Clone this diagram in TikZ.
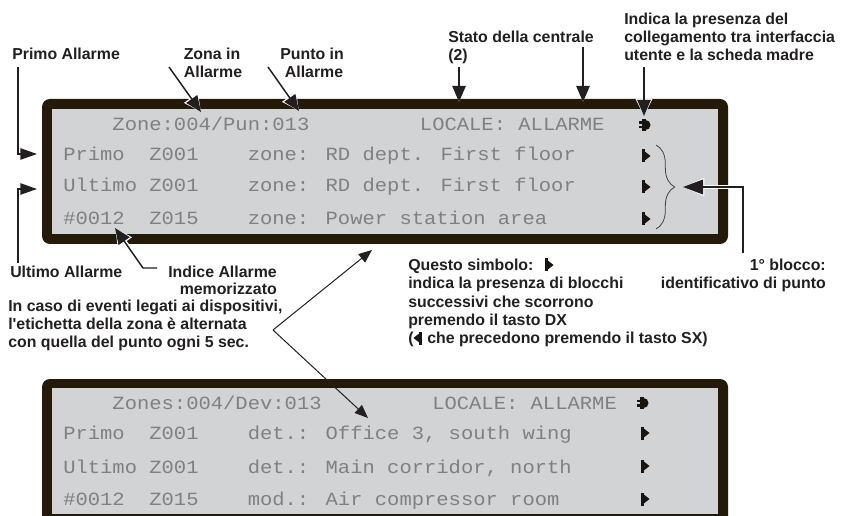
\documentclass[tikz,border=0pt]{standalone}
\usepackage{fontspec}
\setmainfont{Liberation Sans}
\newfontfamily\lcdfont[FakeStretch=1.1]{Liberation Mono}
\usetikzlibrary{arrows.meta,decorations.pathreplacing}
\definecolor{framecol}{RGB}{35,26,10}
\definecolor{lcdbg}{RGB}{209,211,212}
\definecolor{lcdtxt}{RGB}{128,128,128}
\definecolor{ink}{RGB}{35,31,32}
\definecolor{symcol}{RGB}{25,20,15}
\begin{document}
\begin{tikzpicture}[x=0.75pt,y=-0.75pt,
  lbl/.style={font=\fontsize{11.9}{13.5}\selectfont\bfseries, text=ink, inner sep=0pt},
  lcd/.style={font=\lcdfont\fontsize{13.98}{16}\selectfont, text=lcdtxt, inner sep=0pt, anchor=base west},
  harrow/.style={draw=ink, line width=1.1pt,
     -{Triangle[length=12pt,width=10pt]},
     preaction={draw=white, line width=3.2pt, -{Triangle[length=13pt,width=12pt]}}},
  bigarrow/.style={draw=ink, line width=1.1pt,
     -{Triangle[length=15pt,width=11pt]},
     preaction={draw=white, line width=3.2pt, -{Triangle[length=16pt,width=13pt]}}},
  larrow/.style={draw=ink, line width=1pt, -{Triangle[length=12.5pt,width=8.5pt]}},
  tarrow/.style={draw=ink, line width=0.75pt, -{Triangle[length=10pt,width=8pt]}},
  symR/.pic={\fill[symcol] (-4,-6.5) rectangle (-1.2,6.5);
             \fill[symcol] (-1.2,-4.5) -- (4.5,0) -- (-1.2,4.5) -- cycle;},
  symL/.pic={\fill[symcol] (4,-6.5) rectangle (1.2,6.5);
             \fill[symcol] (1.2,-4.5) -- (-4.5,0) -- (1.2,4.5) -- cycle;},
  symC/.pic={\fill[symcol] (-6.5,-3.5) rectangle (-3.5,-1.2);
             \fill[symcol] (-6.5,1.2) rectangle (-3.5,3.5);
             \fill[symcol] (-3.5,-6) rectangle (0.5,6);
             \fill[symcol] (0.5,-5) arc[start angle=-90, end angle=90, radius=5] -- cycle;}
]
\useasboundingbox (0,0) rectangle (841,516);
\fill[white] (0,0) rectangle (841,516);

% ---------- top display ----------
\fill[framecol, rounded corners=6pt] (42,99) rectangle (728,244);
\fill[lcdbg] (52,109) rectangle (718,234);
\node[lcd] (t1a) at ({63+12.3*4},131) {Zone:004/Pun:013};
\node[lcd] (t1b) at ({63+12.3*29},131) {LOCALE: ALLARME};
\node[lcd] (t2a) at (63,161) {Primo};
\node[lcd] (t2b) at ({63+12.3*7},161) {Z001};
\node[lcd] (t2c) at ({63+12.3*15},161) {zone: RD dept. First floor};
\node[lcd] (t3a) at (63,192) {Ultimo};
\node[lcd] (t3b) at ({63+12.3*7},192) {Z001};
\node[lcd] (t3c) at ({63+12.3*15},192) {zone: RD dept. First floor};
\node[lcd] (t4a) at (63,225) {\#0012};
\node[lcd] (t4b) at ({63+12.3*7},225) {Z015};
\node[lcd] (t4c) at ({63+12.3*15},225) {zone: Power station area};
\pic at (645,125) {symC};
\pic at (646,156) {symR};
\pic at (646,187) {symR};
\pic at (646,219) {symR};
\draw[ink!85, line width=0.6pt, decorate, decoration={brace, amplitude=14pt}] (656,145) -- (656,229);

% ---------- bottom display ----------
\fill[framecol, rounded corners=6pt] (42,379) rectangle (728,540);
\fill[lcdbg] (52,388) rectangle (718,514);
\node[lcd] (b1a) at ({63+12.3*4},409) {Zones:004/Dev:013};
\node[lcd] (b1b) at ({63+12.3*30},409) {LOCALE: ALLARME};
\node[lcd] (b2a) at (63,439) {Primo};
\node[lcd] (b2b) at ({63+12.3*7},439) {Z001};
\node[lcd] (b2c) at ({63+12.3*15},439) {det.: Office 3, south wing};
\node[lcd] (b3a) at (63,473) {Ultimo};
\node[lcd] (b3b) at ({63+12.3*7},473) {Z001};
\node[lcd] (b3c) at ({63+12.3*15},473) {det.: Main corridor, north};
\node[lcd] (b4a) at (63,505) {\#0012};
\node[lcd] (b4b) at ({63+12.3*7},505) {Z015};
\node[lcd] (b4c) at ({63+12.3*15},505) {mod.: Air compressor room};
\pic at (643,403) {symC};
\pic at (645,433) {symR};
\pic at (645,466) {symR};
\pic at (645,499) {symR};

% ---------- labels ----------
\node[lbl, anchor=base west] (primo) at (12,60) {Primo Allarme};
\node[lbl, anchor=base] (zona1) at (212,60) {Zona in};
\node[lbl, anchor=base] (zona2) at (213,78) {Allarme};
\node[lbl, anchor=base] (punto1) at (312,60) {Punto in};
\node[lbl, anchor=base] (punto2) at (314,78) {Allarme};
\node[lbl, anchor=base west] (stato1) at (448,43) {Stato della centrale};
\node[lbl, anchor=base west] (stato2) at (448,61) {(2)};
\node[lbl, anchor=base west] (ind1) at (624,25) {Indica la presenza del};
\node[lbl, anchor=base west] (ind2) at (624,43) {collegamento tra interfaccia};
\node[lbl, anchor=base west] (ind3) at (624,61) {utente e la scheda madre};
\node[lbl, anchor=base west] (ultimo) at (10,277) {Ultimo Allarme};
\node[lbl, anchor=base east] (indice1) at (277,277) {Indice Allarme};
\node[lbl, anchor=base east] (indice2) at (277,295) {memorizzato};
\node[lbl, anchor=base west] (caso1) at (8,311) {In caso di eventi legati ai dispositivi,};
\node[lbl, anchor=base west] (caso2) at (8,329) {l\textquotesingle etichetta della zona è alternata};
\node[lbl, anchor=base west] (caso3) at (8,347) {con quella del punto ogni 5 sec.};
\node[lbl, anchor=base west] (q1) at (408,271) {Questo simbolo:};
\node[lbl, anchor=base west] (q2) at (408,289) {indica la presenza di blocchi};
\node[lbl, anchor=base west] (q3) at (408,307) {successivi che scorrono};
\node[lbl, anchor=base west] (q4) at (408,325) {premendo il tasto DX};
\node[lbl, anchor=base west] (q5) at (408,343) {(\hspace*{7pt} che precedono premendo il tasto SX)};
\pic at (549,265) {symR};
\pic at (418,338) {symL};
\node[lbl, anchor=base east] (bl1) at (826,271) {1° blocco:};
\node[lbl, anchor=base east] (bl2) at (826,289) {identificativo di punto};

% ---------- connectors ----------
\coordinate (pA) at (18,67);  \coordinate (pB) at (37,154);
\coordinate (uA) at (18,263); \coordinate (uB) at (37,189);
\draw[larrow] (pA) |- (pB);
\draw[larrow] (uA) |- (uB);
\coordinate (zA) at (169,67);  \coordinate (zB) at (201,112);
\coordinate (kA) at (268,67);  \coordinate (kB) at (299,111);
\draw[harrow] (zA) -- (zB);
\draw[harrow] (kA) -- (kB);
\coordinate (s1A) at (459,67); \coordinate (s1B) at (459,102);
\coordinate (s2A) at (583,47); \coordinate (s2B) at (583,102);
\coordinate (iA) at (644,67);  \coordinate (iB) at (644,116);
\draw[harrow] (s1A) -- (s1B);
\draw[harrow] (s2A) -- (s2B);
\draw[harrow] (iA) -- (iB);
\coordinate (xA) at (157,268); \coordinate (xM) at (143,268); \coordinate (xB) at (115,228);
\draw[harrow] (xA) -- (xM) -- (xB);
\coordinate (bA) at (743,253); \coordinate (bB) at (683,187);
\draw[bigarrow] (bA) |- (bB);
\coordinate (v) at (273,330);
\coordinate (vU) at (372,250); \coordinate (vD) at (368,418);
\draw[tarrow] (v) -- (vU);
\draw[tarrow] (v) -- (vD);
\end{tikzpicture}
\end{document}
